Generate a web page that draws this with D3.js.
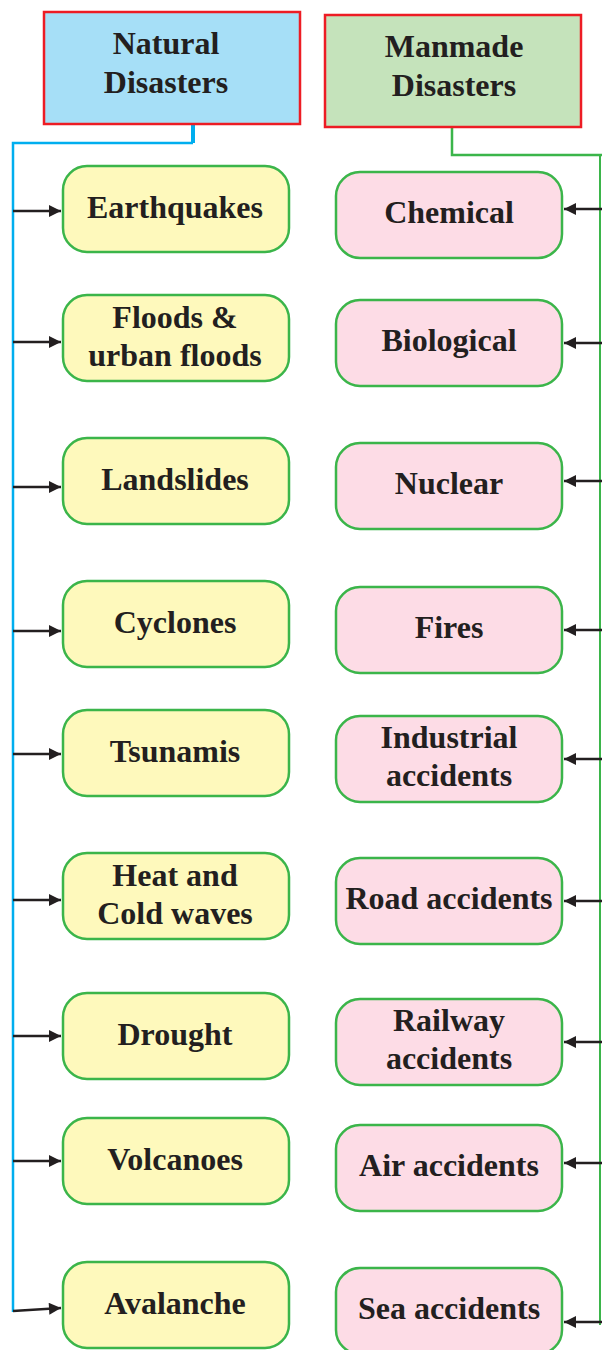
<!DOCTYPE html>
<html><head><meta charset="utf-8">
<script src="https://cdn.jsdelivr.net/npm/d3@7"></script>
<style>body{margin:0;background:#fff}svg{display:block}</style>
</head><body>
<svg id="c" width="602" height="1350"></svg>
<script>
// Data
const headers = ["Natural\nDisasters", "Manmade\nDisasters"];
const naturalItems = ["Earthquakes", "Floods &\nurban floods", "Landslides", "Cyclones", "Tsunamis", "Heat and\nCold waves", "Drought", "Volcanoes", "Avalanche"];
const manmadeItems = ["Chemical", "Biological", "Nuclear", "Fires", "Industrial\naccidents", "Road accidents", "Railway\naccidents", "Air accidents", "Sea accidents"];

// Layout (separate from data)
const leftTops = [166, 295, 438, 581, 710, 853, 993, 1118, 1262];
const rightTops = [172, 300, 443, 587, 716, 858, 999, 1125, 1268];
const leftArrowY = [211, 342, 487, 631, 754, 900, 1036, 1161, 1311];
const rightArrowY = [209, 343, 481, 630, 759, 901, 1042, 1163, 1322];
const boxH = 86, boxW = 226;

const svg = d3.select("#c");
const defs = svg.append("defs");
defs.append("marker").attr("id","ah").attr("viewBox","0 0 10 10").attr("refX",10).attr("refY",5)
  .attr("markerWidth",18).attr("markerHeight",12).attr("markerUnits","userSpaceOnUse").attr("orient","auto")
  .append("path").attr("d","M0,0 L10,5 L0,10 Z").attr("fill","#231f20");

const font = "'Liberation Serif','Times New Roman',serif";
function label(g, text, cx, cy, size, lh) {
  const lines = text.split("\n");
  const t = g.append("text").attr("text-anchor","middle").attr("font-family",font)
    .attr("font-weight","bold").attr("font-size",size).attr("fill","#231f20");
  lines.forEach((l,i)=>{
    t.append("tspan").attr("x",cx).attr("y", cy + (i - (lines.length-1)/2)*lh).attr("dy","0.33em").text(l);
  });
}

// Connectors
svg.append("path").attr("d","M193,124 V143").attr("stroke","#00aeef").attr("stroke-width",4).attr("fill","none");
svg.append("path").attr("d","M193,143 H13 V1312").attr("stroke","#00aeef").attr("stroke-width",2.5).attr("fill","none");
svg.append("path").attr("d","M452,124 V155 H602").attr("stroke","#3bb54a").attr("stroke-width",2.5).attr("fill","none");
svg.append("path").attr("d","M600,155 V1325").attr("stroke","#3bb54a").attr("stroke-width",2).attr("fill","none");

// Headers
const hdr = [{x:44,y:12,fill:"#a6dff7",cx:166},{x:325,y:15,fill:"#c5e3bb",cx:454}];
headers.forEach((h,i)=>{
  const g = svg.append("g");
  g.append("rect").attr("x",hdr[i].x).attr("y",hdr[i].y).attr("width",256).attr("height",112)
    .attr("fill",hdr[i].fill).attr("stroke","#ed1c24").attr("stroke-width",2.5);
  label(g, h, hdr[i].cx, hdr[i].y+51, 32, 39);
});

// Left boxes
naturalItems.forEach((d,i)=>{
  const g = svg.append("g");
  g.append("rect").attr("x",63).attr("y",leftTops[i]).attr("width",boxW).attr("height",boxH)
    .attr("rx",24).attr("fill","#fef9bc").attr("stroke","#3bb54a").attr("stroke-width",2.5);
  label(g, d, 175, leftTops[i]+boxH/2-2, 32, 38);
  svg.append("line").attr("x1",13).attr("x2",61).attr("y1",leftArrowY[i]).attr("y2",leftArrowY[i]-(i===8?3:0))
    .attr("stroke","#231f20").attr("stroke-width",2.5).attr("marker-end","url(#ah)");
});

// Right boxes
manmadeItems.forEach((d,i)=>{
  const g = svg.append("g");
  g.append("rect").attr("x",336).attr("y",rightTops[i]).attr("width",boxW).attr("height",boxH)
    .attr("rx",24).attr("fill","#fddce6").attr("stroke","#3bb54a").attr("stroke-width",2.5);
  label(g, d, 449, rightTops[i]+boxH/2-3, 32, 38);
  svg.append("line").attr("x1",602).attr("x2",564).attr("y1",rightArrowY[i]).attr("y2",rightArrowY[i])
    .attr("stroke","#231f20").attr("stroke-width",2.5).attr("marker-end","url(#ah)");
});
</script>
</body></html>
